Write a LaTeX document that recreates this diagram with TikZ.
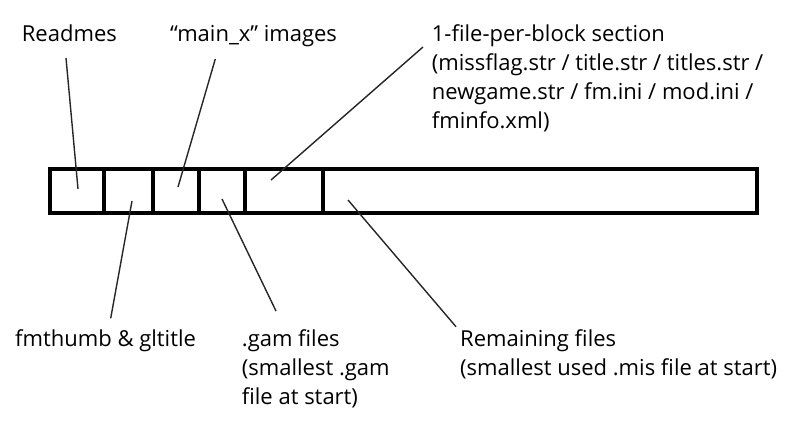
\documentclass[tikz,border=0pt]{standalone}
\usepackage{fontspec}
\setmainfont{Open Sans}
\usetikzlibrary{positioning}

\begin{document}
\begin{tikzpicture}[
    x=1pt, y=-1pt,
    node distance=0pt,
    cell/.style={
        rectangle,
        draw=black,
        line width=3.5pt,
        minimum height=44pt,
        inner sep=0pt,
        outer sep=0pt
    },
    lbl/.style={
        inner sep=0pt,
        align=left,
        anchor=base west,
        font=\fontsize{22}{29}\selectfont
    },
    leader/.style={
        line width=1.4pt,
        color=black!85
    }
]
\useasboundingbox (0,0) rectangle (800,440);

% Bar cells
\node[cell, minimum width=54pt] (readme) at (77,191) {};
\node[cell, minimum width=49pt, right=of readme] (thumb) {};
\node[cell, minimum width=46pt, right=of thumb] (mainx) {};
\node[cell, minimum width=46pt, right=of mainx] (gam) {};
\node[cell, minimum width=78pt, right=of gam] (block) {};
\node[cell, minimum width=434pt, right=of block] (rest) {};

% Labels (base = last line)
\node[lbl] (lreadme) at (21.7,41) {Readmes};
\node[lbl] (lmainx) at (170,41) {“main\_x” images};
\node[lbl] (lblock) at (431.7,128.7) {1-file-per-block section\\(missflag.str / title.str / titles.str /\\newgame.str / fm.ini / mod.ini /\\fminfo.xml)};
\node[lbl] (lthumb) at (15,346.7) {fmthumb \& gltitle};
\node[lbl] (lgam) at (241.7,404) {.gam files\\(smallest .gam\\file at start)};
\node[lbl] (lrest) at (460,375) {Remaining files\\(smallest used .mis file at start)};

% Leaders
\draw[leader] ([shift={(44.3,17)}]lreadme.base west) -- ([shift={(1,-2)}]readme.center);
\draw[leader] ([shift={(45.3,18)}]lmainx.base west) -- ([shift={(2,-4)}]mainx.center);
\draw[leader] ([shift={(-8.7,-81.7)}]lblock.base west) -- ([shift={(-13,-11)}]block.center);
\draw[leader] ([shift={(95.7,-28.4)}]lthumb.base west) -- ([shift={(3.5,10)}]thumb.center);
\draw[leader] ([shift={(34.3,-93)}]lgam.base west) -- ([shift={(0,8)}]gam.center);
\draw[leader] ([shift={(-4,-48.3)}]lrest.base west) -- ([shift={(25,9)}]rest.west);

\end{tikzpicture}
\end{document}
